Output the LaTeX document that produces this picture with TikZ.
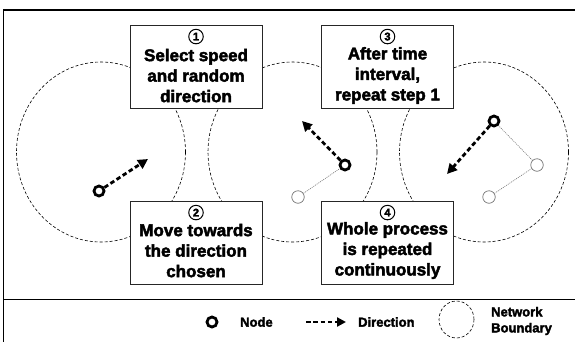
\documentclass[tikz,border=0pt]{standalone}
\usepackage{fontspec}
\setmainfont{Liberation Sans}[BoldFeatures={FakeBold=2.6}]
\usetikzlibrary{arrows.meta,shapes.geometric}
\tikzset{
  boundary/.style={draw, ellipse, dash pattern=on 3pt off 2pt, line width=0.6pt, minimum width=169pt, minimum height=180pt, inner sep=0pt},
  stepbox/.style={draw=black!85, fill=white, line width=0.9pt, minimum width=132pt, minimum height=83pt, inner sep=0pt},
  steptext/.style={align=center, font=\fontsize{17}{20.5}\selectfont\bfseries, inner sep=0pt},
  numc/.style={draw, circle, line width=1pt, minimum size=14.5pt, inner sep=0pt, font=\fontsize{11}{11}\selectfont\bfseries},
  mnode/.style={draw, circle, line width=2.8pt, minimum size=10pt, inner sep=0pt},
  oldnode/.style={draw=black!55, circle, line width=0.7pt, minimum size=12.5pt, inner sep=0pt},
  trail/.style={draw=black!55, line width=0.6pt, dash pattern=on 1pt off 1pt},
  heading/.style={line width=2.8pt, dash pattern=on 4.5pt off 2.8pt, -{Triangle[length=10pt,width=10pt]}},
  legtext/.style={font=\fontsize{13}{16}\selectfont\bfseries, align=left, inner sep=0pt},
}
\begin{document}
\begin{tikzpicture}[x=1pt,y=-1pt]
\useasboundingbox (0,0) rectangle (575,341);
% outer frame and legend separator
\draw[line width=1.8pt] (3.5,343) -- (3.5,10) -- (577,10);
\draw[line width=1pt] (3.5,299) -- (577,299);

% network boundaries
\node[boundary] (c1) at (101,152) {};
\node[boundary] (c2) at (292.5,152) {};
\node[boundary] (c3) at (484,152) {};

% step boxes
\node[stepbox] (b1) at (196,66.5) {};
\node[numc] at ([yshift=-12pt]b1.north) {1};
\node[steptext] at ([yshift=-51pt]b1.north) {Select speed\\and random\\direction};

\node[stepbox] (b3) at (387.5,66.5) {};
\node[numc] at ([yshift=-12pt]b3.north) {3};
\node[steptext] at ([yshift=-51pt]b3.north) {After time\\interval,\\repeat step 1};

\node[stepbox] (b2) at (196,242.5) {};
\node[numc] at ([yshift=-12pt]b2.north) {2};
\node[steptext] at ([yshift=-50pt]b2.north) {Move towards\\the direction\\chosen};

\node[stepbox] (b4) at (387.5,242.5) {};
\node[numc] at ([yshift=-12pt]b4.north) {4};
\node[steptext] at ([yshift=-50pt]b4.north) {Whole process\\is repeated\\continuously};

% first movement
\node[mnode] (m1) at (99,191) {};
\coordinate (d1) at (148,159);
\draw[heading] (m1) -- (d1);

% second movement
\node[oldnode] (p2) at (298,197) {};
\node[mnode] (m2) at (345,165) {};
\coordinate (d2) at (302,121);
\draw[trail] (p2) -- (m2);
\draw[heading] (m2) -- (d2);

% third movement
\node[oldnode] (q1) at (489,197) {};
\node[oldnode] (q2) at (537,165) {};
\node[mnode] (m3) at (494,121) {};
\coordinate (d3) at (447,174);
\draw[trail] (q1) -- (q2);
\draw[trail] (q2) -- (m3);
\draw[heading] (m3) -- (d3);

% legend
\node[mnode] (lnode) at (212,322) {};
\node[legtext, anchor=west] (lnodet) at (240,322) {Node};
\coordinate (la) at (306,322);
\coordinate (lb) at (346,322);
\draw[heading, -{Triangle[length=9pt,width=9pt]}] (la) -- (lb);
\node[legtext, anchor=west] (ldir) at (358,322) {Direction};
\node[draw, ellipse, dash pattern=on 3pt off 2pt, line width=0.6pt, minimum width=35pt, minimum height=37pt, inner sep=0pt] (lcirc) at (456.5,319.5) {};
\node[legtext, anchor=west] (lnet) at (491,321) {Network\\Boundary};
\end{tikzpicture}
\end{document}
